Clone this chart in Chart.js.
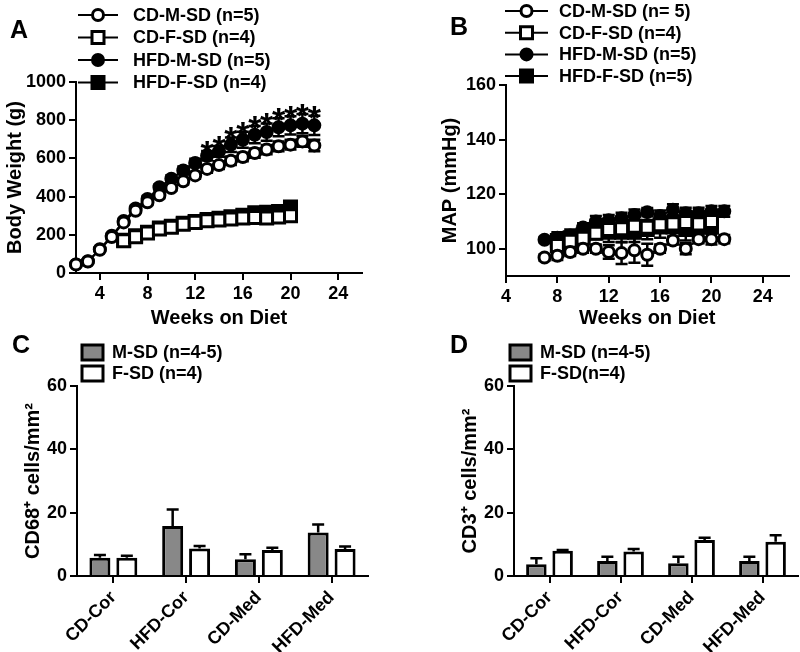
<!DOCTYPE html>
<html>
<head>
<meta charset="utf-8">
<script src="https://cdn.jsdelivr.net/npm/chart.js@4/dist/chart.umd.min.js"></script>
<style>
  body { margin: 0; background: #fff; }
  #wrap { position: relative; width: 800px; height: 652px; overflow: hidden; }
  canvas { position: absolute; }
  .tag { position: absolute; font: bold 25px "Liberation Sans", Arial, sans-serif; line-height: 24px; color: #000; }
</style>
</head>
<body>
<div id="wrap">
  <canvas id="chartA" width="400" height="330" style="left:0;top:0"></canvas>
  <canvas id="chartB" width="400" height="330" style="left:400px;top:0"></canvas>
  <canvas id="chartC" width="400" height="322" style="left:0;top:330px"></canvas>
  <canvas id="chartD" width="400" height="322" style="left:400px;top:330px"></canvas>
  <div class="tag" style="left:10px;top:17px">A</div>
  <div class="tag" style="left:450px;top:14px">B</div>
  <div class="tag" style="left:12px;top:332px">C</div>
  <div class="tag" style="left:450px;top:332px">D</div>
</div>
<script>
const FONT = '"Liberation Sans", Arial, sans-serif';

// ---- panel A: body weight ----
const weeksAM = [2, 3, 4, 5, 6, 7, 8, 9, 10, 11, 12, 13, 14, 15, 16, 17, 18, 19, 20, 21, 22];
const cdMA = [45, 60, 122, 188, 265, 326, 370, 407, 445, 480, 511, 545, 565, 588, 607, 628, 646, 663, 672, 689, 668];
const cdMAerr = [5, 5, 8, 10, 12, 12, 14, 15, 15, 16, 18, 20, 20, 22, 22, 24, 24, 25, 26, 28, 30];
const hfdMA = [45, 62, 125, 195, 272, 338, 388, 449, 494, 537, 576, 614, 637, 672, 698, 724, 738, 763, 773, 782, 773];
const hfdMAerr = [5, 5, 8, 10, 12, 14, 15, 16, 18, 20, 22, 25, 28, 38, 42, 45, 45, 47, 48, 50, 50];
const weeksAF = [6, 7, 8, 9, 10, 11, 12, 13, 14, 15, 16, 17, 18, 19, 20];
const cdFA = [169, 190, 209, 230, 239, 255, 265, 274, 277, 283, 288, 291, 288, 293, 300];
const cdFAerr = [8, 8, 8, 8, 8, 8, 8, 8, 8, 8, 8, 8, 8, 8, 8];
const hfdFA = [172, 195, 213, 235, 245, 260, 270, 280, 287, 295, 302, 315, 318, 322, 345];
const hfdFAerr = [8, 8, 8, 8, 8, 8, 8, 9, 9, 10, 10, 10, 10, 12, 12];
const sigWeeksA = [13, 14, 15, 16, 17, 18, 19, 20, 21, 22];
const xTicksA = [4, 8, 12, 16, 20, 24];
const yTicksA = [0, 200, 400, 600, 800, 1000];
const legendA = ['CD-M-SD (n=5)', 'CD-F-SD (n=4)', 'HFD-M-SD (n=5)', 'HFD-F-SD (n=4)'];

// ---- panel B: MAP ----
const weeksBM = [7, 8, 9, 10, 11, 12, 13, 14, 15, 16, 17, 18, 19, 20, 21];
const cdMB = [96.8, 97.4, 98.8, 100, 100, 98.8, 98.4, 99.4, 97.8, 100, 103, 100, 103.5, 103.5, 103.5];
const cdMBerr = [1.2, 1.5, 1.5, 1.5, 1.5, 2.5, 4, 4.5, 4, 1.5, 1.5, 2, 1.5, 2, 1.5];
const hfdMB = [103.3, 104, 104.8, 107.8, 110, 110.4, 111.2, 112.4, 113.4, 112, 114.3, 113, 113, 113.7, 113.7];
const hfdMBerr = [1, 1.5, 1.5, 1.5, 2, 2, 2, 2, 1.5, 2, 2, 2, 2, 2, 2];
const weeksBF = [8, 9, 10, 11, 12, 13, 14, 15, 16, 17, 18, 19, 20];
const cdFB = [101.2, 102.7, 103.8, 105.7, 107, 107.3, 108.2, 107.9, 108.8, 109.1, 109.6, 109.1, 110];
const cdFBerr = [2, 2, 2, 2, 2, 2, 2, 2, 2, 2, 2, 2, 2];
const hfdFB = [103, 104, 105, 107, 106, 106, 106, 107, 108, 108, 107, 108, 108];
const hfdFBerr = [3, 3, 3, 3.5, 3.5, 3.5, 3.5, 3.5, 4, 4, 4, 4, 4];
const xTicksB = [4, 8, 12, 16, 20, 24];
const yTicksB = [100, 120, 140, 160];
const legendB = ['CD-M-SD (n= 5)', 'CD-F-SD (n=4)', 'HFD-M-SD (n=5)', 'HFD-F-SD (n=5)'];

// ---- panels C, D: cell counts ----
const regions = ['CD-Cor', 'HFD-Cor', 'CD-Med', 'HFD-Med'];
const cd68M = [5.8, 15.8, 5.3, 13.7];
const cd68Merr = [0.8, 5.2, 1.6, 2.6];
const cd68F = [5.8, 8.7, 8.2, 8.5];
const cd68Ferr = [0.6, 0.8, 0.7, 0.8];
const cd3M = [3.7, 4.7, 4.0, 4.7];
const cd3Merr = [1.9, 1.4, 2.1, 1.4];
const cd3F = [8.0, 7.7, 11.4, 10.8];
const cd3Ferr = [0.2, 0.8, 0.7, 2.1];
const yTicksCD = [0, 20, 40, 60];
const legendC = ['M-SD (n=4-5)', 'F-SD (n=4)'];
const legendD = ['M-SD (n=4-5)', 'F-SD(n=4)'];

const markers = [
  { style: 'circle', fill: '#fff' },
  { style: 'rect', fill: '#fff' },
  { style: 'circle', fill: '#000' },
  { style: 'rect', fill: '#000' }
];

function drawMarker(ctx, m, x, y) {
  ctx.fillStyle = m.fill;
  ctx.strokeStyle = '#000';
  ctx.lineWidth = 3;
  ctx.beginPath();
  if (m.style === 'circle') ctx.arc(x, y, 5.5, 0, Math.PI * 2);
  else ctx.rect(x - 6, y - 6, 12, 12);
  ctx.fill();
  ctx.stroke();
}

// error bars: symmetric for lines, upward only for bars
const errorBars = {
  id: 'errorBars',
  beforeDatasetsDraw(chart, args, opts) {
    if (!opts.upperOnly) drawErrors(chart, opts);
  },
  afterDatasetsDraw(chart, args, opts) {
    if (opts.upperOnly) drawErrors(chart, opts);
  }
};
function drawErrors(chart, opts) {
  const ctx = chart.ctx;
  const ys = chart.scales.y;
  ctx.save();
  ctx.strokeStyle = '#000';
  ctx.lineWidth = 2.5;
  chart.data.datasets.forEach((ds, di) => {
    if (!ds.errors) return;
    chart.getDatasetMeta(di).data.forEach((el, i) => {
      const raw = ds.data[i];
      const v = typeof raw === 'object' ? raw.y : raw;
      const e = ds.errors[i];
      const top = ys.getPixelForValue(v + e);
      const bot = opts.upperOnly ? ys.getPixelForValue(v) : ys.getPixelForValue(v - e);
      const cw = opts.cap || 6;
      ctx.beginPath();
      ctx.moveTo(el.x, top); ctx.lineTo(el.x, bot);
      ctx.moveTo(el.x - cw, top); ctx.lineTo(el.x + cw, top);
      if (!opts.upperOnly) { ctx.moveTo(el.x - cw, bot); ctx.lineTo(el.x + cw, bot); }
      ctx.stroke();
    });
  });
  ctx.restore();
}

// legends drawn like the original figure
const figLegend = {
  id: 'figLegend',
  afterDraw(chart, args, opts) {
    if (!opts.labels) return;
    const ctx = chart.ctx;
    ctx.save();
    ctx.font = 'bold 18px ' + FONT;
    ctx.textBaseline = 'middle';
    opts.labels.forEach((txt, i) => {
      const y = opts.y + i * opts.dy;
      if (opts.kind === 'line') {
        ctx.strokeStyle = '#000';
        ctx.lineWidth = 2;
        ctx.beginPath(); ctx.moveTo(opts.x, y); ctx.lineTo(opts.x + opts.w, y); ctx.stroke();
        drawMarker(ctx, markers[i], opts.x + opts.w / 2, y);
      } else {
        ctx.fillStyle = opts.colors[i];
        ctx.strokeStyle = '#000';
        ctx.lineWidth = 3;
        ctx.fillRect(opts.x, y - 7, 21, 15);
        ctx.strokeRect(opts.x, y - 7, 21, 15);
      }
      ctx.fillStyle = '#000';
      ctx.fillText(txt, opts.tx, y + 1);
    });
    ctx.restore();
  }
};

// significance stars above HFD-M-SD
const sigStars = {
  id: 'sigStars',
  afterDatasetsDraw(chart, args, opts) {
    if (!opts.weeks) return;
    const ds = chart.data.datasets[opts.ds];
    const ctx = chart.ctx;
    ctx.save();
    ctx.font = 'bold 34px ' + FONT;
    ctx.textAlign = 'center';
    ctx.textBaseline = 'alphabetic';
    ctx.fillStyle = '#000';
    opts.weeks.forEach(w => {
      const i = ds.data.findIndex(p => p.x === w);
      const px = chart.scales.x.getPixelForValue(w);
      const py = chart.scales.y.getPixelForValue(ds.data[i].y + ds.errors[i]);
      ctx.fillText('*', px, py + 13);
    });
    ctx.restore();
  }
};

Chart.register(errorBars, figLegend, sigStars);

function lineSet(label, xs, ys, errs, m) {
  return {
    label: label,
    data: xs.map((x, i) => ({ x: x, y: ys[i] })),
    errors: errs,
    borderColor: '#000',
    borderWidth: 2,
    pointStyle: m.style,
    pointRadius: m.style === 'circle' ? 5.5 : 8.5,
    pointBackgroundColor: m.fill,
    pointBorderColor: '#000',
    pointBorderWidth: 3,
    clip: false,
    tension: 0
  };
}

const tickFont = { family: FONT, size: 18, weight: 'bold' };
function axis(extra) {
  return Object.assign({
    grid: { display: true, drawOnChartArea: false, drawTicks: true, tickLength: 7, color: '#000', lineWidth: 2 },
    border: { display: true, color: '#000', width: 2 },
    ticks: { color: '#000', font: tickFont, padding: 3, callback: v => String(v) }
  }, extra);
}
function title(text, pad) {
  return { display: true, text: text, color: '#000', font: { family: FONT, size: 20, weight: 'bold' }, padding: pad };
}
function fixedTicks(list) {
  return ax => { ax.ticks = list.map(v => ({ value: v })); };
}

const base = {
  responsive: false,
  animation: false,
  events: [],
  plugins: { legend: { display: false }, tooltip: { enabled: false } }
};

new Chart(document.getElementById('chartA'), {
  type: 'line',
  data: {
    datasets: [
      lineSet(legendA[0], weeksAM, cdMA, cdMAerr, markers[0]),
      lineSet(legendA[1], weeksAF, cdFA, cdFAerr, markers[1]),
      lineSet(legendA[2], weeksAM, hfdMA, hfdMAerr, markers[2]),
      lineSet(legendA[3], weeksAF, hfdFA, hfdFAerr, markers[3])
    ]
  },
  options: Object.assign({}, base, {
    layout: { padding: { top: 82, right: 38, left: 0, bottom: 0 } },
    plugins: Object.assign({}, base.plugins, {
      errorBars: { cap: 6 },
      figLegend: { labels: legendA, kind: 'line', x: 78, w: 40, tx: 133, y: 15, dy: 22.5 },
      sigStars: { weeks: sigWeeksA, ds: 2 }
    }),
    scales: {
      x: axis({
        type: 'linear', min: 2, max: 26,
        afterBuildTicks: fixedTicks(xTicksA),
        afterFit: ax => { ax.height = 57; },
        title: title('Weeks on Diet', { top: 0, bottom: 0 })
      }),
      y: axis({
        min: 0, max: 1000,
        afterBuildTicks: fixedTicks(yTicksA),
        afterFit: ax => { ax.width = 76; },
        title: title('Body Weight (g)', { top: 3, bottom: 0 })
      })
    }
  })
});

new Chart(document.getElementById('chartB'), {
  type: 'line',
  data: {
    datasets: [
      lineSet(legendB[0], weeksBM, cdMB, cdMBerr, markers[0]),
      lineSet(legendB[1], weeksBF, cdFB, cdFBerr, markers[1]),
      lineSet(legendB[2], weeksBM, hfdMB, hfdMBerr, markers[2]),
      lineSet(legendB[3], weeksBF, hfdFB, hfdFBerr, markers[3])
    ]
  },
  options: Object.assign({}, base, {
    layout: { padding: { top: 85, right: 10, left: 0, bottom: 0 } },
    plugins: Object.assign({}, base.plugins, {
      errorBars: { cap: 6 },
      figLegend: { labels: legendB, kind: 'line', x: 105, w: 43, tx: 159, y: 11, dy: 21.7 }
    }),
    scales: {
      x: axis({
        type: 'linear', min: 4, max: 26,
        afterBuildTicks: fixedTicks(xTicksB),
        afterFit: ax => { ax.height = 54; },
        title: title('Weeks on Diet', { top: 0, bottom: 0 })
      }),
      y: axis({
        min: 90, max: 160,
        afterBuildTicks: fixedTicks(yTicksB),
        afterFit: ax => { ax.width = 106; },
        title: title('MAP (mmHg)', { top: 38, bottom: 0 })
      })
    }
  })
});

function barChart(id, mVals, mErr, fVals, fErr, yTitle, titlePad, yWidth, rightPad, legend, lx, ltx) {
  new Chart(document.getElementById(id), {
    type: 'bar',
    data: {
      labels: regions,
      datasets: [
        { label: legend[0], data: mVals, errors: mErr, backgroundColor: '#888888', borderColor: '#000', borderWidth: 3, categoryPercentage: 0.74, barPercentage: 0.78 },
        { label: legend[1], data: fVals, errors: fErr, backgroundColor: '#ffffff', borderColor: '#000', borderWidth: 3, categoryPercentage: 0.74, barPercentage: 0.78 }
      ]
    },
    options: Object.assign({}, base, {
      layout: { padding: { top: 56, right: rightPad, left: 0, bottom: 0 } },
      plugins: Object.assign({}, base.plugins, {
        errorBars: { upperOnly: true, cap: 6 },
        figLegend: { labels: legend, kind: 'box', colors: ['#888888', '#ffffff'], x: lx, tx: ltx, y: 22, dy: 21 }
      }),
      scales: {
        x: axis({
          grid: { display: true, offset: false, drawOnChartArea: false, drawTicks: true, tickLength: 7, color: '#000', lineWidth: 2 },
          ticks: { color: '#000', font: tickFont, padding: 4, minRotation: 45, maxRotation: 45, autoSkip: false },
          afterFit: ax => { ax.height = 76; }
        }),
        y: axis({
          min: 0, max: 60,
          afterBuildTicks: fixedTicks(yTicksCD),
          afterFit: ax => { ax.width = yWidth; },
          title: title(yTitle, { top: titlePad, bottom: 0 })
        })
      }
    })
  });
}

barChart('chartC', cd68M, cd68Merr, cd68F, cd68Ferr, 'CD68\u207A cells/mm\u00B2', 21, 77, 32, legendC, 82, 112);
barChart('chartD', cd3M, cd3Merr, cd3F, cd3Ferr, 'CD3\u207A cells/mm\u00B2', 58, 114, 2, legendD, 110, 140);
</script>
</body>
</html>
